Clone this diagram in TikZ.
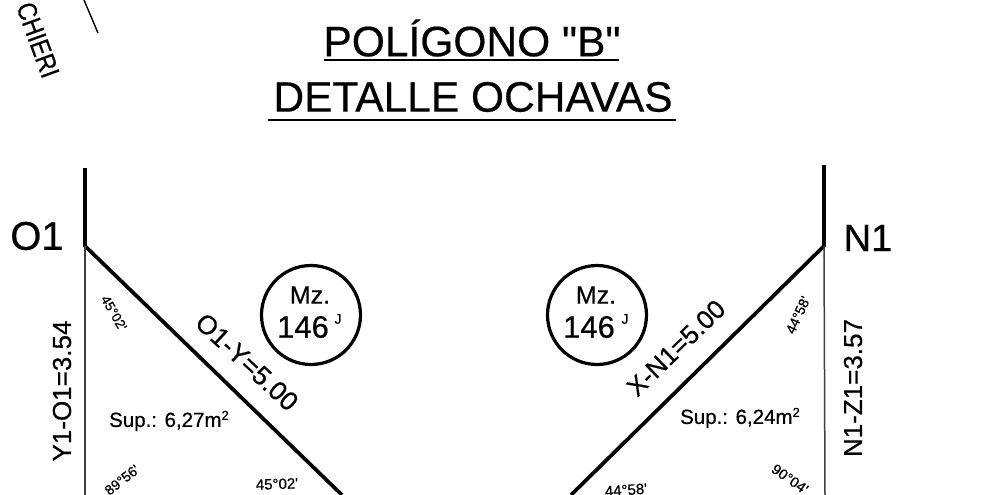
\documentclass[tikz,border=0pt]{standalone}
\usepackage{fontspec}
\setmainfont{Liberation Sans}
\newfontfamily\inkf{Liberation Sans}[FakeBold=0.5]
\newcommand{\fs}[1]{\fontsize{#1pt}{#1pt}\selectfont}
\tikzset{
  heavy/.style={line width=3.7pt,black},
  thin line/.style={line width=1.5pt,black!75},
  ring/.style={circle,draw,line width=3.2pt,minimum size=99pt,inner sep=0pt},
  lbl/.style={inner sep=0pt,text=black,font=\inkf},
}
\begin{document}
\begin{tikzpicture}[x=1pt,y=-1pt]
\useasboundingbox (0,0) rectangle (989,495);
\clip (0,0) rectangle (989,495);
\fill[white] (0,0) rectangle (989,495);
% corner fragment
\coordinate (tickA) at (84,0);
\coordinate (tickB) at (98,33);
\draw[line width=1.4pt] (tickA) -- (tickB);
\node[lbl,rotate=-70] (chieri) at (38,40) {\fs{27}\scalebox{0.85}[1]{CHIERI}};
% titles
\node[lbl] (t1) at (472,38) {\fs{42.5}POLÍGONO "B"};
\node[lbl] (t2) at (473,97) {\fs{42.5}DETALLE OCHAVAS};
\coordinate (u1a) at (324,60); \coordinate (u1b) at (619,60);
\coordinate (u2a) at (268,120); \coordinate (u2b) at (676,120);
\draw[line width=1.8pt] (u1a) -- (u1b);
\draw[line width=1.8pt] (u2a) -- (u2b);
% left corner
\coordinate (O1) at (85,246);
\coordinate (O1top) at (85,168);
\coordinate (O1end) at (342,495);
\coordinate (O1low) at (85,495);
\draw[heavy] (O1top) -- (O1) -- (O1end);
\draw[thin line] (O1) -- (O1low);
\node[lbl] (lO1) at (37,236) {\fs{40}O1};
\node[lbl,rotate=90] (lY1) at (62,391) {\fs{26}Y1-O1=3.54};
\node[lbl,rotate=-43] (lO1Y) at (247,362) {\fs{26.5}O1-Y=5.00};
\node[lbl,rotate=-60] (a1) at (114,313) {\fs{13.5}45°02'};
\node[lbl] (s1) at (169,421) {\fs{20.5}Sup.: 6,27m\raisebox{7pt}{\fs{13}2}};
\node[lbl,rotate=38] (a2) at (122,480) {\fs{14}89°56'};
\node[lbl,rotate=2] (a3) at (277,484) {\fs{15}45°02'};
\node[ring] (m1) at (311,315) {};
\node[lbl] (m1a) at (310,295) {\fs{25}Mz.};
\node[lbl] (m1b) at (303,327) {\fs{31}146};
\node[lbl] (m1c) at (338,319) {\fs{14}J};
% right corner
\coordinate (N1) at (824,246);
\coordinate (N1top) at (824,165);
\coordinate (N1end) at (571,495);
\coordinate (N1low) at (825,495);
\draw[heavy] (N1top) -- (N1) -- (N1end);
\draw[thin line] (N1) -- (N1low);
\node[lbl] (lN1) at (868,238) {\fs{38}N1};
\node[lbl,rotate=90] (lZ1) at (853,388) {\fs{26}N1-Z1=3.57};
\node[lbl,rotate=44] (lXN) at (676,348) {\fs{26}X-N1=5.00};
\node[lbl,rotate=65] (a4) at (798,315) {\fs{14}44°58'};
\node[lbl] (s2) at (740,418) {\fs{20.5}Sup.: 6,24m\raisebox{7pt}{\fs{13}2}};
\node[lbl,rotate=-35] (a5) at (790,479) {\fs{14.5}90°04'};
\node[lbl,rotate=4] (a6) at (626,490) {\fs{15}44°58'};
\node[ring] (m2) at (597,315) {};
\node[lbl] (m2a) at (596,295) {\fs{25}Mz.};
\node[lbl] (m2b) at (589,327) {\fs{31}146};
\node[lbl] (m2c) at (625,319) {\fs{14}J};
\end{tikzpicture}
\end{document}
